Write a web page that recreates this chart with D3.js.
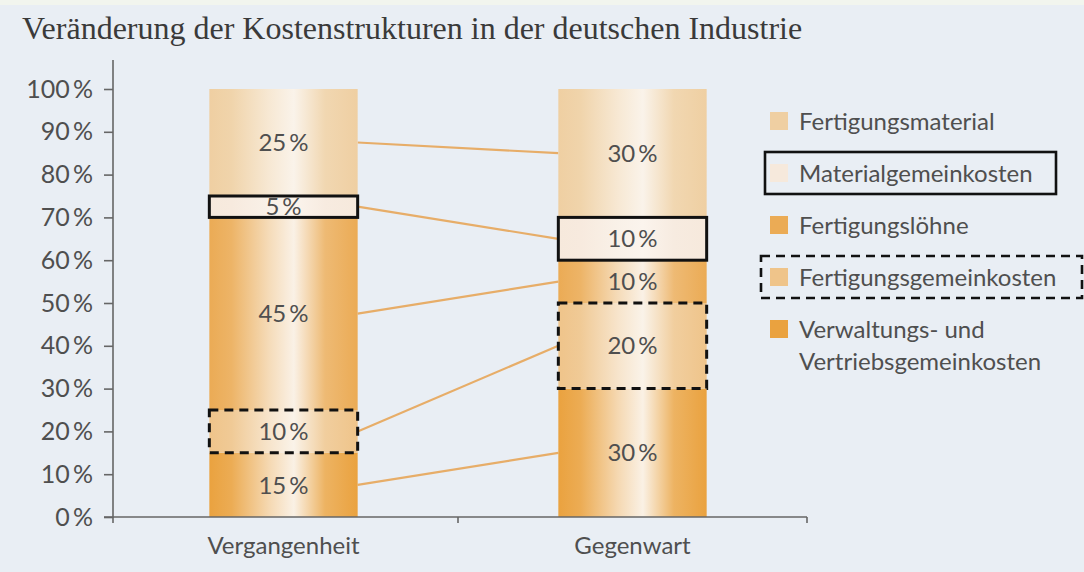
<!DOCTYPE html>
<html><head><meta charset="utf-8">
<script src="https://cdn.jsdelivr.net/npm/d3@7/dist/d3.min.js"></script>
<style>
html,body{margin:0;padding:0;background:#e9eef4;}
svg{display:block;}
</style></head>
<body><svg id="chart" width="1084" height="572"></svg>
<script>
const title = "Veränderung der Kostenstrukturen in der deutschen Industrie";
const categories = ["Vergangenheit", "Gegenwart"];
// stacked from bottom to top
const seriesNames = ["Verwaltungs- und Vertriebsgemeinkosten", "Fertigungsgemeinkosten", "Fertigungslöhne", "Materialgemeinkosten", "Fertigungsmaterial"];
const vergangenheit = [15, 10, 45, 5, 25];
const gegenwart = [30, 20, 10, 10, 30];
const yTicks = [0, 10, 20, 30, 40, 50, 60, 70, 80, 90, 100];
const legendOrder = ["Fertigungsmaterial", "Materialgemeinkosten", "Fertigungslöhne", "Fertigungsgemeinkosten", "Verwaltungs- und Vertriebsgemeinkosten"];
const legendLines = [["Fertigungsmaterial"], ["Materialgemeinkosten"], ["Fertigungslöhne"], ["Fertigungsgemeinkosten"], ["Verwaltungs- und", "Vertriebsgemeinkosten"]];
const colors = {
  "Fertigungsmaterial": "#efcfa2",
  "Materialgemeinkosten": "#f6e9dc",
  "Fertigungslöhne": "#ebab55",
  "Fertigungsgemeinkosten": "#efc48a",
  "Verwaltungs- und Vertriebsgemeinkosten": "#eaa23f"
};
const boxStyle = {"Materialgemeinkosten": "solid", "Fertigungsgemeinkosten": "dashed"};

const svg = d3.select("#chart");
const W = 1084, H = 572;
const font = "Lato, 'Open Sans', sans-serif";
const txt = "#4f4f4f";

svg.append("rect").attr("width", W).attr("height", H).attr("fill", "#e9eef4");
svg.append("rect").attr("width", W).attr("height", 5).attr("fill", "#f2f5ee");

svg.append("text").attr("x", 22).attr("y", 39)
  .attr("font-family", "'Liberation Serif', 'DejaVu Serif', serif")
  .attr("font-size", 32).attr("fill", "#3a3a3a").text(title);

const x = d3.scaleBand().domain(categories).range([109, 807]).padding(0);
const y = d3.scaleLinear().domain([0, 100]).range([517, 89]);
const barW = x.bandwidth() * 0.425;

const defs = svg.append("defs");
seriesNames.forEach((s, i) => {
  const c = d3.color(colors[s]);
  const mix = t => d3.interpolateRgb(c, "#fbf5ee")(t);
  const g = defs.append("linearGradient").attr("id", "g" + i).attr("x1", "0%").attr("x2", "100%");
  g.append("stop").attr("offset", "0%").attr("stop-color", c.formatHex());
  g.append("stop").attr("offset", "15%").attr("stop-color", mix(0.12));
  g.append("stop").attr("offset", "40%").attr("stop-color", mix(0.65));
  g.append("stop").attr("offset", "57%").attr("stop-color", mix(0.95));
  g.append("stop").attr("offset", "78%").attr("stop-color", mix(0.2));
  g.append("stop").attr("offset", "100%").attr("stop-color", c.formatHex());
});

const values = {"Vergangenheit": vergangenheit, "Gegenwart": gegenwart};
const stacks = {};
categories.forEach(cat => {
  let acc = 0;
  stacks[cat] = values[cat].map((v, i) => { const r = {name: seriesNames[i], i, v, y0: acc, y1: acc + v}; acc += v; return r; });
});

// connector lines
const c0 = categories[0], c1 = categories[1];
seriesNames.forEach((s, i) => {
  const a = stacks[c0][i], b = stacks[c1][i];
  svg.append("line")
    .attr("x1", x(c0) + x.bandwidth() / 2 + barW / 2)
    .attr("y1", y((a.y0 + a.y1) / 2))
    .attr("x2", x(c1) + x.bandwidth() / 2 - barW / 2)
    .attr("y2", y((b.y0 + b.y1) / 2))
    .attr("stroke", "#e7ad68").attr("stroke-width", 2.2);
});

// bars
categories.forEach(cat => {
  const bx = x(cat) + x.bandwidth() / 2 - barW / 2;
  const g = svg.append("g");
  stacks[cat].forEach(d => {
    g.append("rect").attr("x", bx).attr("width", barW)
      .attr("y", y(d.y1)).attr("height", y(d.y0) - y(d.y1))
      .attr("fill", `url(#g${d.i})`);
  });
  stacks[cat].forEach(d => {
    if (boxStyle[d.name]) {
      g.append("rect").attr("x", bx).attr("width", barW)
        .attr("y", y(d.y1)).attr("height", y(d.y0) - y(d.y1))
        .attr("fill", "none").attr("stroke", "#111").attr("stroke-width", 3)
        .attr("stroke-dasharray", boxStyle[d.name] === "dashed" ? "9,6" : null);
    }
    g.append("text").attr("x", bx + barW / 2).attr("y", y((d.y0 + d.y1) / 2))
      .attr("dy", "0.36em").attr("text-anchor", "middle")
      .attr("font-family", font).attr("font-size", 24).attr("fill", txt)
      .text(d.v + "\u2009%");
  });
});

// y axis
const yAxis = d3.axisLeft(y).tickValues(yTicks).tickSize(9).tickPadding(11)
  .tickFormat(d => d + "\u2009%");
const ya = svg.append("g").attr("transform", "translate(113,0)").call(yAxis);
ya.select(".domain").attr("d", "M-9,517H0V60").attr("stroke", "#666").attr("stroke-width", 1.6);
ya.selectAll(".tick line").attr("stroke", "#666").attr("stroke-width", 1.6);
ya.selectAll(".tick text").attr("font-family", font).attr("font-size", 25).attr("fill", txt);

// x axis
const xAxis = d3.axisBottom(x).tickSize(0).tickPadding(20);
const xa = svg.append("g").attr("transform", "translate(0,517)").call(xAxis);
xa.select(".domain").attr("stroke", "#666").attr("stroke-width", 1.6).attr("d", "M113,0H807");
xa.selectAll(".tick text").attr("font-family", font).attr("font-size", 24).attr("fill", txt)
  .attr("dy", "0.71em");
[113, x(categories[1]), 807].forEach(px => {
  xa.append("line").attr("x1", px).attr("x2", px).attr("y1", 0).attr("y2", 6)
    .attr("stroke", "#666").attr("stroke-width", 1.6);
});

// legend
const lg = svg.append("g");
legendOrder.forEach((s, i) => {
  const cy = 121 + i * 52;
  lg.append("rect").attr("x", 770).attr("y", cy - 9).attr("width", 18).attr("height", 18)
    .attr("fill", colors[s]);
  legendLines[i].forEach((line, j) => {
    lg.append("text").attr("x", 799).attr("y", cy + j * 32).attr("dy", "0.36em")
      .attr("font-family", font).attr("font-size", 24).attr("fill", txt).text(line);
  });
  if (boxStyle[s]) {
    lg.append("rect").attr("x", boxStyle[s] === "dashed" ? 761 : 765).attr("y", cy - 21)
      .attr("width", boxStyle[s] === "dashed" ? 321 : 291).attr("height", 42)
      .attr("fill", "none").attr("stroke", "#111").attr("stroke-width", 2.6)
      .attr("stroke-dasharray", boxStyle[s] === "dashed" ? "9,6" : null);
  }
});
</script></body></html>
